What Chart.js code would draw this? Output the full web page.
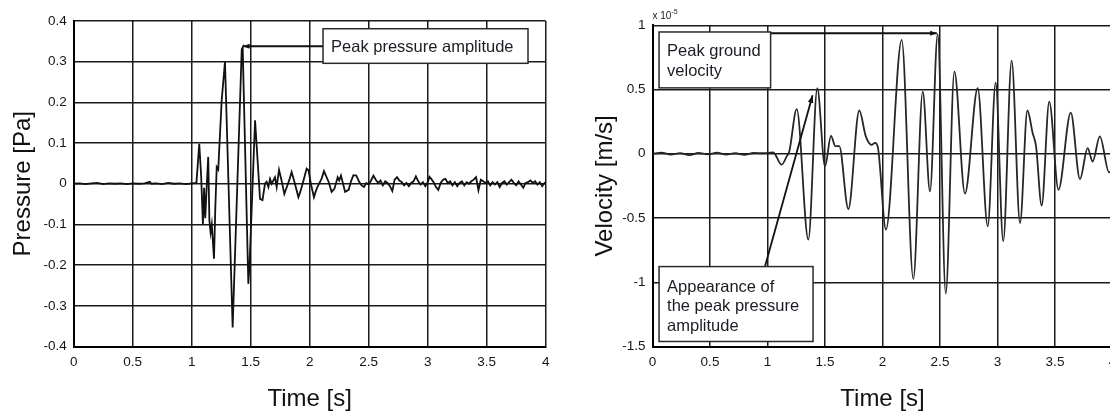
<!DOCTYPE html>
<html><head><meta charset="utf-8">
<script src="https://cdn.jsdelivr.net/npm/chart.js@4.4.1/dist/chart.umd.min.js"></script>
<style>
html,body{margin:0;padding:0;background:#fff;overflow:hidden;width:1110px;height:414px;}
#w1{position:absolute;left:0;top:0;width:560px;height:414px;}
#w2{position:absolute;left:580px;top:0;width:550px;height:414px;}
</style></head><body>
<div id="w1"><canvas id="c1" width="560" height="414"></canvas></div>
<div id="w2"><canvas id="c2" width="550" height="414"></canvas></div>
<script>
// ---------- DATA ----------
const timeTicks = [0, 0.5, 1, 1.5, 2, 2.5, 3, 3.5, 4];
const pressureTicks = [-0.4, -0.3, -0.2, -0.1, 0, 0.1, 0.2, 0.3, 0.4];
const velocityTicks = [-1.5, -1, -0.5, 0, 0.5, 1];

const pressureTime = [0,0.05,0.1,0.15,0.2,0.25,0.3,0.35,0.4,0.45,0.5,0.55,0.6,0.645,0.66,0.7,0.75,0.8,0.85,0.9,0.95,1.0,1.04,
 1.064,1.08,1.095,1.105,1.115,1.125,1.14,1.15,1.16,1.17,1.189,1.2,1.212,1.225,1.254,1.282,1.347,1.424,1.432,1.48,1.49,1.537,1.579,1.6,1.621,
 1.635,1.65,1.664,1.678,1.706,1.72,1.74,1.76,1.785,1.81,1.83,1.847,1.875,1.904,1.92,1.94,1.974,1.99,2.01,2.036,2.05,2.065,2.1,2.121,2.14,2.16,2.186,2.21,
 2.237,2.25,2.265,2.3,2.33,2.35,2.37,2.395,2.42,2.44,2.46,2.48,2.5,2.52,2.54,2.56,2.58,2.6,2.62,2.64,2.66,2.68,2.7,2.72,2.74,2.76,2.78,2.8,2.82,2.84,2.86,2.88,
 2.9,2.92,2.94,2.96,2.98,3.0,3.015,3.03,3.05,3.07,3.09,3.11,3.13,3.15,3.17,3.19,3.21,3.23,3.25,3.27,3.29,3.31,3.33,3.35,3.37,3.39,3.41,3.43,3.45,3.47,3.49,
 3.51,3.53,3.55,3.57,3.59,3.61,3.63,3.65,3.67,3.69,3.71,3.73,3.75,3.77,3.79,3.81,3.83,3.85,3.87,3.89,3.91,3.93,3.95,3.97,3.99,4.0];
const pressureValues = [0,0.001,-0.001,0.001,0.002,-0.001,0.001,0,0.001,-0.001,0.001,0,0.001,0.005,0,0.001,-0.001,0.002,0,0.001,-0.001,0.001,0.002,
 0.098,0.02,-0.1,-0.01,-0.085,-0.02,0.066,-0.09,-0.12,-0.1,-0.184,-0.06,0.041,0.035,0.205,0.3,-0.353,0.33,0.335,-0.246,-0.2,0.156,-0.037,-0.04,0,
 0.005,-0.008,0.012,0,0.016,-0.008,0.034,0.01,-0.025,-0.005,0.012,0.029,0,-0.033,-0.02,0,0.037,0.033,0,-0.033,-0.02,-0.008,0.012,0.031,0.018,0.005,-0.02,-0.012,
 0.016,0.008,0.02,-0.02,-0.015,0.006,0.021,0.02,0.004,-0.004,-0.008,0.002,-0.002,0.008,0.02,0.01,0.002,0.008,-0.004,0.006,0.002,-0.006,-0.018,0.01,0.016,0.008,0.004,-0.004,0.002,-0.006,0.002,0.006,
 0.018,0.006,-0.002,0.004,-0.006,0.004,0.017,0.012,0.004,-0.008,-0.015,0.002,0.01,0.012,0.002,0.006,-0.004,0.004,-0.006,0.002,0.006,-0.004,0.004,0,0.006,0.01,0.016,-0.016,0.01,0.006,0.002,
 0.006,-0.004,0.004,-0.002,0.004,-0.008,0.002,0.006,-0.002,0.004,0.01,0.002,-0.004,0.006,-0.002,-0.01,0.002,0.004,0.008,0.002,0.006,-0.002,0.004,-0.006,0.002,0];

const velocityTime = [0,0.08,0.16,0.24,0.32,0.4,0.48,0.56,0.64,0.72,0.8,0.88,0.96,1.05,1.123,1.167,1.19,1.254,1.355,1.433,1.5,1.552,1.59,1.624,
 1.703,1.798,1.855,1.905,1.935,1.96,2.03,2.167,2.268,2.35,2.413,2.48,2.55,2.625,2.717,2.828,2.915,2.984,3.05,3.123,3.196,3.26,3.306,3.335,
 3.384,3.45,3.53,3.637,3.717,3.784,3.827,3.89,3.97,4.0];
const velocityValues = [0,0.008,-0.006,0.005,-0.01,0.006,-0.004,0.008,-0.006,0.004,-0.008,0.006,0.004,0.01,-0.085,-0.02,0.02,0.347,-0.668,0.51,-0.098,0.14,0.06,0.06,
 -0.43,0.337,0.135,0.07,0.085,0.05,-0.59,0.886,-0.974,0.484,-0.293,0.932,-1.088,0.64,-0.31,0.51,-0.565,0.554,-0.68,0.725,-0.54,0.337,0.16,0.06,
 -0.404,0.406,-0.28,0.321,-0.197,0.044,-0.06,0.135,-0.145,-0.12];

// annotation anchors in data units [t, value]
const pressureNoteBox = [2.113, 0.381, 3.85, 0.296];
const pressureArrow = [2.113, 0.338, 1.435, 0.338];
const pressureNoteText = ['Peak pressure amplitude'];
const velocityPeakBox = [0.057, 0.948, 1.027, 0.513];
const velocityPeakArrow = [1.027, 0.938, 2.472, 0.938];
const velocityPeakText = ['Peak ground', 'velocity'];
const appearanceBox = [0.057, -0.878, 1.396, -1.461];
const appearanceArrow = [0.978, -0.878, 1.392, 0.455];
const appearanceText = ['Appearance of', 'the peak pressure', 'amplitude'];

// ---------- HELPERS ----------
const FONT = '"Liberation Sans", Arial, Helvetica, sans-serif';
function pts(ts, vs){ return ts.map((t,i)=>({x:t, y:vs[i]})); }

function arrowLine(ctx, x1,y1,x2,y2,size){
  ctx.beginPath(); ctx.moveTo(x1,y1); ctx.lineTo(x2,y2); ctx.stroke();
  const a = Math.atan2(y2-y1, x2-x1);
  ctx.beginPath(); ctx.moveTo(x2,y2);
  ctx.lineTo(x2 - size*Math.cos(a-0.35), y2 - size*Math.sin(a-0.35));
  ctx.lineTo(x2 - size*Math.cos(a+0.35), y2 - size*Math.sin(a+0.35));
  ctx.closePath(); ctx.fill();
}
function noteBox(chart, box, lines, lineH, firstBase){
  const {ctx, scales:{x, y}} = chart;
  const l = x.getPixelForValue(box[0]), t = y.getPixelForValue(box[1]);
  const r = x.getPixelForValue(box[2]), b = y.getPixelForValue(box[3]);
  ctx.save();
  ctx.fillStyle = '#fff'; ctx.fillRect(l, t, r-l, b-t);
  ctx.strokeStyle = '#2a2a2a'; ctx.lineWidth = 1.5; ctx.strokeRect(l, t, r-l, b-t);
  ctx.fillStyle = '#1c1c24'; ctx.font = '16.5px ' + FONT; ctx.textBaseline = 'alphabetic'; ctx.textAlign='left';
  lines.forEach((s,i)=>ctx.fillText(s, l+8, t+firstBase+i*lineH));
  ctx.restore();
}
function noteArrow(chart, arr, size){
  const {ctx, scales:{x, y}} = chart;
  ctx.save(); ctx.strokeStyle='#111'; ctx.fillStyle='#111'; ctx.lineWidth=1.8;
  arrowLine(ctx, x.getPixelForValue(arr[0]), y.getPixelForValue(arr[1]), x.getPixelForValue(arr[2]), y.getPixelForValue(arr[3]), size);
  ctx.restore();
}

function makeScales(yMin, yMax, yTicks, yTitle, yTitlePad, yWidth){
  return {
    x: {
      type:'linear', min:0, max:4,
      afterBuildTicks: s => { s.ticks = timeTicks.map(v=>({value:v})); },
      afterFit: s => { s.height = 67.5; },
      ticks: { callback: v => String(v), padding: 8, color:'#151515', font:{family:FONT, size:13.5}, maxRotation:0, autoSkip:false },
      grid: { color:'#1a1a1a', lineWidth:1.5, drawTicks:false },
      border: { color:'#000', width:2 },
      title: { display:true, text:'Time [s]', color:'#111', font:{family:FONT, size:24}, padding:{top:0,bottom:0} }
    },
    y: {
      type:'linear', min:yMin, max:yMax,
      afterBuildTicks: s => { s.ticks = yTicks.map(v=>({value:v})); },
      afterFit: s => { s.width = yWidth; },
      ticks: { callback: v => String(v), padding: 7, color:'#151515', font:{family:FONT, size:13.5}, autoSkip:false },
      grid: { color:'#1a1a1a', lineWidth:1.5, drawTicks:false },
      border: { color:'#000', width:2 },
      title: { display:true, text:yTitle, color:'#111', font:{family:FONT, size:24}, padding:{top:yTitlePad,bottom:0} }
    }
  };
}

// ---------- LEFT CHART ----------
new Chart(document.getElementById('c1'), {
  type:'line',
  data:{ datasets:[{ data: pts(pressureTime, pressureValues), borderColor:'#111', borderWidth:1.8, pointRadius:0, tension:0, fill:false }]},
  options:{
    responsive:false, animation:false, events:[],
    layout:{ padding:{ top:21, right:14.3, bottom:0, left:0 } },
    plugins:{ legend:{display:false}, tooltip:{enabled:false} },
    scales: makeScales(-0.4, 0.4, pressureTicks, 'Pressure [Pa]', 9, 73.7)
  },
  plugins:[{ id:'notes1', afterDatasetsDraw(chart){
    noteArrow(chart, pressureArrow, 7);
    noteBox(chart, pressureNoteBox, pressureNoteText, 20, 23);
  }}]
});

// ---------- RIGHT CHART ----------
new Chart(document.getElementById('c2'), {
  type:'line',
  data:{ datasets:[{ data: pts(velocityTime, velocityValues), borderColor:'#262626', borderWidth:1.8, pointRadius:0, cubicInterpolationMode:'monotone', fill:false }]},
  options:{
    responsive:false, animation:false, events:[],
    layout:{ padding:{ top:25.3, right:17.5, bottom:0, left:0 } },
    plugins:{ legend:{display:false}, tooltip:{enabled:false} },
    scales: makeScales(-1.5, 1, velocityTicks, 'Velocity [m/s]', 11, 72.5)
  },
  plugins:[{ id:'notes2', afterDatasetsDraw(chart){
    noteArrow(chart, velocityPeakArrow, 7);
    noteArrow(chart, appearanceArrow, 8);
    noteBox(chart, velocityPeakBox, velocityPeakText, 20, 24);
    noteBox(chart, appearanceBox, appearanceText, 19.7, 25);
    const {ctx, chartArea} = chart;
    ctx.save(); ctx.fillStyle='#222'; ctx.textAlign='left'; ctx.textBaseline='alphabetic';
    ctx.font = '10px ' + FONT; ctx.fillText('x 10', chartArea.left, chartArea.top - 6);
    ctx.font = '7px ' + FONT; ctx.fillText('-5', chartArea.left + 19, chartArea.top - 11);
    ctx.restore();
  }}]
});
</script>
</body></html>
